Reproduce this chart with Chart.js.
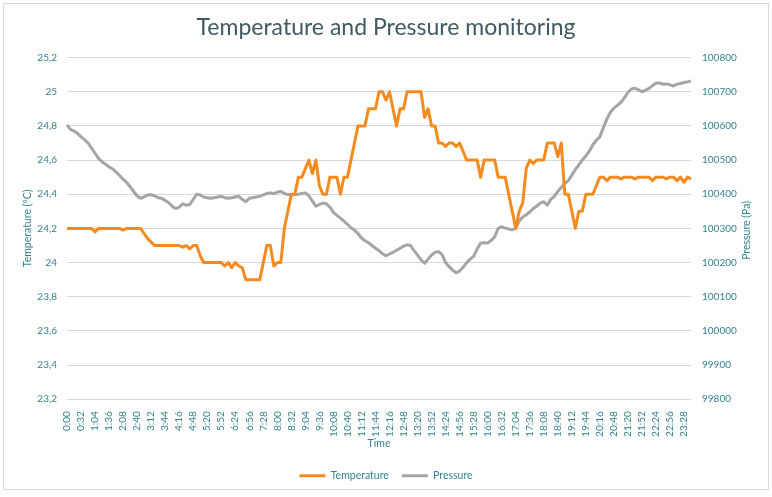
<!DOCTYPE html>
<html>
<head>
<meta charset="utf-8">
<script src="https://cdn.jsdelivr.net/npm/chart.js@4.4.1/dist/chart.umd.min.js"></script>
<style>
  html, body { margin: 0; padding: 0; background: #ffffff; }
  #wrap { position: relative; width: 772px; height: 497px; }
  #frame { position: absolute; left: 3px; top: 3px; width: 764px; height: 485px; border: 1px solid #d9d9d9; }
  canvas { position: absolute; left: 0; top: 0; }
</style>
</head>
<body>
<div id="wrap">
  <div id="frame"></div>
  <canvas id="c" width="772" height="497"></canvas>
</div>
<script>
// Sample step between points, minutes (data starts at 0:00)
const stepMinutes = 8;

// Temperature (ºC), one value every 8 minutes from 0:00 to 23:44
const temperature = [
  24.2,24.2,24.2,24.2,24.2,24.2,24.2,24.2,24.18,24.2,
  24.2,24.2,24.2,24.2,24.2,24.2,24.19,24.2,24.2,24.2,
  24.2,24.2,24.17,24.14,24.12,24.1,24.1,24.1,24.1,24.1,
  24.1,24.1,24.1,24.09,24.1,24.08,24.1,24.1,24.04,24.0,
  24.0,24.0,24.0,24.0,24.0,23.98,24.0,23.97,24.0,23.98,
  23.97,23.9,23.9,23.9,23.9,23.9,24.0,24.1,24.1,23.98,
  24.0,24.0,24.2,24.3,24.4,24.4,24.5,24.5,24.55,24.6,
  24.52,24.6,24.45,24.4,24.4,24.5,24.5,24.5,24.4,24.5,
  24.5,24.6,24.7,24.8,24.8,24.8,24.9,24.9,24.9,25.0,
  25.0,24.95,25.0,24.9,24.8,24.9,24.9,25.0,25.0,25.0,
  25.0,25.0,24.85,24.9,24.8,24.8,24.7,24.7,24.68,24.7,
  24.7,24.68,24.7,24.65,24.6,24.6,24.6,24.6,24.5,24.6,
  24.6,24.6,24.6,24.5,24.5,24.5,24.4,24.3,24.2,24.3,
  24.35,24.55,24.6,24.58,24.6,24.6,24.6,24.7,24.7,24.7,
  24.62,24.7,24.4,24.4,24.3,24.2,24.3,24.3,24.4,24.4,
  24.4,24.45,24.5,24.5,24.48,24.5,24.5,24.5,24.49,24.5,
  24.5,24.5,24.49,24.5,24.5,24.5,24.5,24.48,24.5,24.5,
  24.5,24.49,24.5,24.5,24.48,24.5,24.47,24.5,24.49
];

// Pressure (Pa), same sampling
const pressure = [
  100603,100590,100585,100578,100568,100560,100550,100535,100520,100505,
  100495,100488,100480,100474,100465,100455,100444,100435,100422,100408,
  100395,100388,100392,100398,100399,100395,100390,100388,100382,100375,
  100365,100358,100362,100372,100368,100370,100385,100400,100398,100392,
  100390,100388,100390,100392,100394,100390,100388,100390,100392,100394,
  100385,100378,100388,100390,100392,100394,100398,100402,100404,100402,
  100406,100409,100402,100399,100398,100399,100400,100402,100404,100395,
  100380,100365,100370,100374,100372,100362,100347,100338,100330,100321,
  100312,100302,100295,100285,100272,100264,100258,100250,100242,100235,
  100226,100220,100225,100230,100236,100242,100248,100252,100250,100235,
  100222,100208,100198,100210,100222,100230,100232,100223,100200,100188,
  100178,100170,100175,100186,100200,100210,100218,100240,100257,100258,
  100257,100265,100275,100300,100305,100301,100298,100296,100301,100322,
  100333,100340,100348,100358,100365,100374,100378,100368,100385,100394,
  100408,100420,100432,100440,100456,100472,100486,100500,100512,100526,
  100545,100558,100568,100595,100620,100640,100652,100660,100669,100682,
  100698,100708,100710,100706,100700,100704,100710,100718,100725,100726,
  100722,100723,100720,100717,100722,100724,100727,100729,100732
];

// Category labels (time of day)
const timeLabels = temperature.map((_, i) => {
  const m = i * stepMinutes;
  return Math.floor(m / 60) + ':' + String(m % 60).padStart(2, '0');
});
const labelEvery = 4; // a tick label every 32 minutes

const tempAxis = { min: 23.2, max: 25.2, step: 0.2 };
const presAxis = { min: 99800, max: 100800, step: 100 };

const TEAL = '#33838f';
const TITLE = '#3f5a60';
const ORANGE = '#F58A1F';
const GREY = '#A5A5A5';
const FONT = 'Lato';

const rightTitlePlugin = {
  id: 'rightTitle',
  afterDraw(chart) {
    const ca = chart.chartArea;
    const ctx = chart.ctx;
    ctx.save();
    ctx.translate(747, (ca.top + ca.bottom) / 2 + 2);
    ctx.rotate(-Math.PI / 2);
    ctx.textAlign = 'center';
    ctx.textBaseline = 'middle';
    ctx.fillStyle = TEAL;
    ctx.font = '10.5px ' + FONT;
    ctx.fillText('Pressure (Pa)', 0, 0);
    ctx.restore();
  }
};

const defaultLabels = Chart.defaults.plugins.legend.labels.generateLabels;

new Chart(document.getElementById('c'), {
  type: 'line',
  data: {
    labels: timeLabels,
    datasets: [
      { label: 'Temperature', data: temperature, yAxisID: 'yT',
        borderColor: ORANGE, backgroundColor: ORANGE, borderWidth: 3,
        pointRadius: 0, tension: 0, borderJoinStyle: 'round' },
      { label: 'Pressure', data: pressure, yAxisID: 'yP',
        borderColor: GREY, backgroundColor: GREY, borderWidth: 3,
        pointRadius: 0, tension: 0, borderJoinStyle: 'round' }
    ]
  },
  options: {
    responsive: false,
    animation: false,
    layout: { padding: { left: 0, right: 0, top: 0, bottom: 6 } },
    plugins: {
      title: {
        display: true,
        text: 'Temperature and Pressure monitoring',
        color: TITLE,
        font: { family: FONT, size: 23, weight: 'normal' },
        padding: { top: 14, bottom: 16 }
      },
      legend: {
        position: 'bottom',
        labels: {
          color: TEAL,
          font: { family: FONT, size: 10.5 },
          boxWidth: 26,
          boxHeight: 3,
          padding: 13,
          generateLabels(chart) {
            return defaultLabels(chart).map(l => Object.assign(l, { lineWidth: 0, fillStyle: l.strokeStyle }));
          }
        }
      },
      tooltip: { enabled: false }
    },
    scales: {
      x: {
        type: 'category',
        offset: false,
        grid: { display: false },
        border: { display: false },
        ticks: {
          autoSkip: false,
          minRotation: 90,
          maxRotation: 90,
          color: TEAL,
          padding: 4,
          font: { family: FONT, size: 10 },
          callback(value, index) {
            return index % labelEvery === 0 ? this.getLabelForValue(value) : null;
          }
        },
        title: {
          display: true, text: 'Time', color: TEAL,
          font: { family: FONT, size: 10.5 },
          padding: { top: -4, bottom: 8 }
        }
      },
      yT: {
        position: 'left',
        min: tempAxis.min, max: tempAxis.max,
        afterFit(s) { s.width = 67; },
        grid: { color: '#d9d9d9', drawTicks: false, lineWidth: 1 },
        border: { display: false },
        ticks: {
          stepSize: tempAxis.step,
          color: TEAL, padding: 10,
          font: { family: FONT, size: 10 },
          callback(v) { return String(Number(v.toFixed(1))).replace('.', ','); }
        },
        title: {
          display: true, text: 'Temperature (ºC)', color: TEAL,
          font: { family: FONT, size: 10.5 },
          padding: { top: 21, bottom: 0 }
        }
      },
      yP: {
        position: 'right',
        min: presAxis.min, max: presAxis.max,
        afterFit(s) { s.width = 81; },
        grid: { drawOnChartArea: false, drawTicks: false },
        border: { display: false },
        ticks: {
          stepSize: presAxis.step,
          color: TEAL, padding: 11,
          font: { family: FONT, size: 10 },
          callback(v) { return String(Math.round(v)); }
        }
      }
    }
  },
  plugins: [rightTitlePlugin]
});
</script>
</body>
</html>
